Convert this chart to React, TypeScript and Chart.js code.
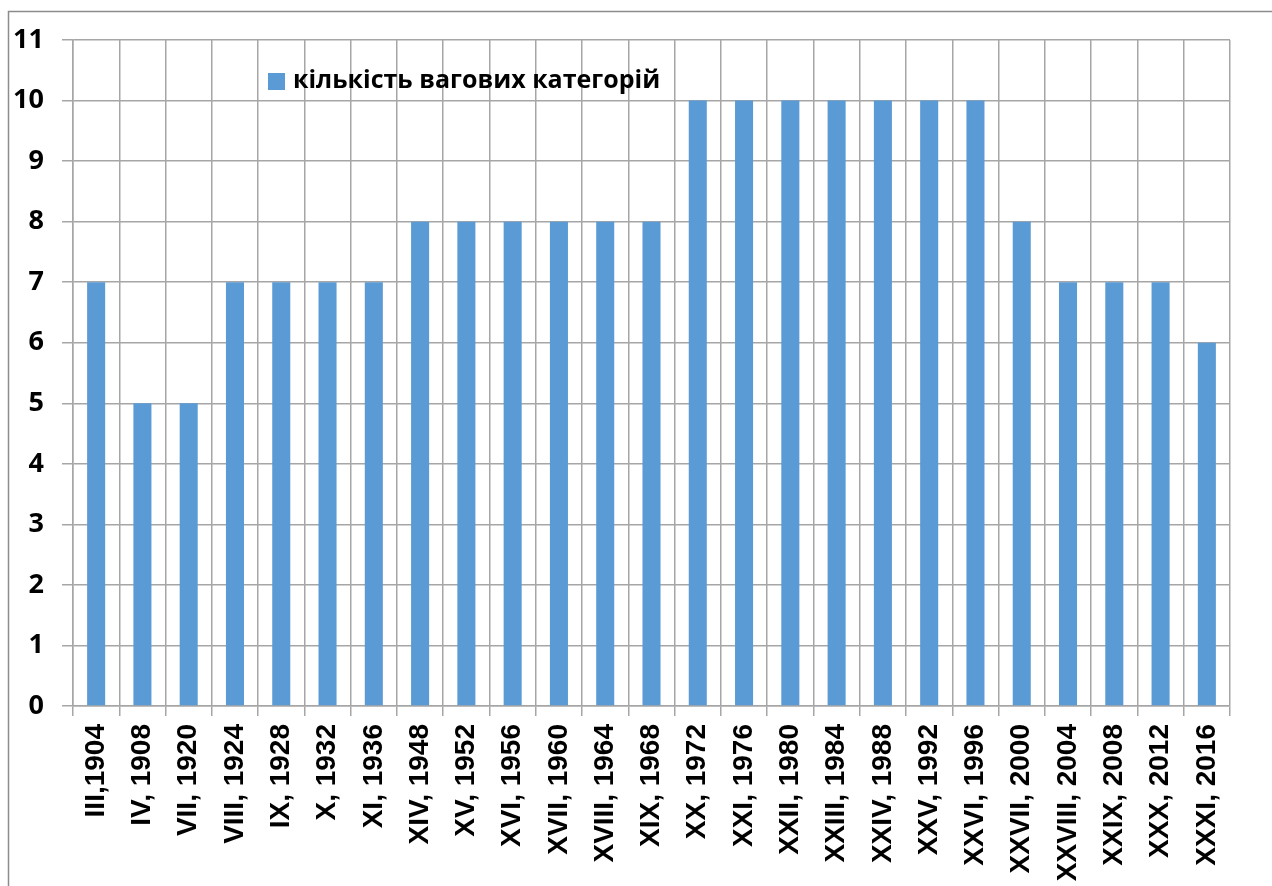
import React, { useEffect, useRef } from "react";
import { Chart, registerables } from "chart.js";

Chart.register(...registerables);

const categories: string[] = [
  "III,1904", "IV, 1908", "VII, 1920", "VIII, 1924", "IX, 1928", "X, 1932", "XI, 1936",
  "XIV, 1948", "XV, 1952", "XVI, 1956", "XVII, 1960", "XVIII, 1964", "XIX, 1968",
  "XX, 1972", "XXI, 1976", "XXII, 1980", "XXIII, 1984", "XXIV, 1988", "XXV, 1992",
  "XXVI, 1996", "XXVII, 2000", "XXVIII, 2004", "XXIX, 2008", "XXX, 2012", "XXXI, 2016",
];
const weightCategories: number[] = [
  7, 5, 5, 7, 7, 7, 7, 8, 8, 8, 8, 8, 8, 10, 10, 10, 10, 10, 10, 10, 8, 7, 7, 7, 6,
];
const seriesLabel = "кількість вагових категорій";
const yMin = 0;
const yMax = 11;
const yStep = 1;

const BAR_COLOR = "#5B9BD5";
const GRID_COLOR = "#a6a6a6";

const frameAndLegend = {
  id: "frameAndLegend",
  beforeDraw(chart: any) {
    const ctx = chart.ctx;
    ctx.save();
    ctx.fillStyle = "#ffffff";
    ctx.fillRect(0, 0, chart.width, chart.height);
    ctx.strokeStyle = "#8c8c8c";
    ctx.lineWidth = 1.5;
    ctx.beginPath();
    ctx.moveTo(8.5, chart.height);
    ctx.lineTo(8.5, 11.5);
    ctx.lineTo(chart.width, 11.5);
    ctx.stroke();
    ctx.restore();
  },
  afterDraw(chart: any) {
    const ctx = chart.ctx;
    const ds = chart.data.datasets[0];
    ctx.save();
    ctx.fillStyle = ds.backgroundColor;
    ctx.fillRect(268, 73, 17, 17);
    ctx.fillStyle = "#000000";
    ctx.font = "bold 25px 'Open Sans', 'Noto Sans', sans-serif";
    ctx.textBaseline = "middle";
    ctx.textAlign = "left";
    ctx.fillText(ds.label, 293, 81);
    ctx.restore();
  },
};

export default function App() {
  const ref = useRef<HTMLCanvasElement | null>(null);

  useEffect(() => {
    if (!ref.current) return;
    const chart = new Chart(ref.current, {
      type: "bar",
      data: {
        labels: categories,
        datasets: [
          {
            label: seriesLabel,
            data: weightCategories,
            backgroundColor: BAR_COLOR,
            borderWidth: 0,
            barPercentage: 0.39,
            categoryPercentage: 1,
          },
        ],
      },
      options: {
        responsive: false,
        animation: false,
        devicePixelRatio: 1,
        layout: { padding: { left: 0, top: 40, right: 42, bottom: 0 } },
        plugins: {
          legend: { display: false },
          tooltip: { enabled: false },
        },
        scales: {
          x: {
            offset: true,
            grid: {
              offset: true,
              color: GRID_COLOR,
              lineWidth: 1.5,
              tickLength: 10,
              drawTicks: true,
            },
            border: { color: GRID_COLOR, width: 1.5 },
            ticks: {
              autoSkip: false,
              minRotation: 90,
              maxRotation: 90,
              padding: 8,
              color: "#000000",
              font: { family: "'Liberation Sans', Arial, sans-serif", size: 28, weight: "bold" },
            },
            afterFit(scale: any) {
              scale.height = 180;
            },
          },
          y: {
            min: yMin,
            max: yMax,
            grid: { color: GRID_COLOR, lineWidth: 1.5, tickLength: 11 },
            border: { color: GRID_COLOR, width: 1.5 },
            ticks: {
              stepSize: yStep,
              padding: 18,
              color: "#000000",
              font: { family: "'Open Sans', 'Noto Sans', sans-serif", size: 27, weight: "bold" },
            },
            afterFit(scale: any) {
              scale.width = 73;
            },
          },
        },
      },
      plugins: [frameAndLegend],
    });
    return () => chart.destroy();
  }, []);

  return (
    <div style={{ position: "fixed", left: 0, top: 0, width: 1272, height: 886 }}>
      <canvas ref={ref} width={1272} height={886} style={{ display: "block" }} />
    </div>
  );
}
